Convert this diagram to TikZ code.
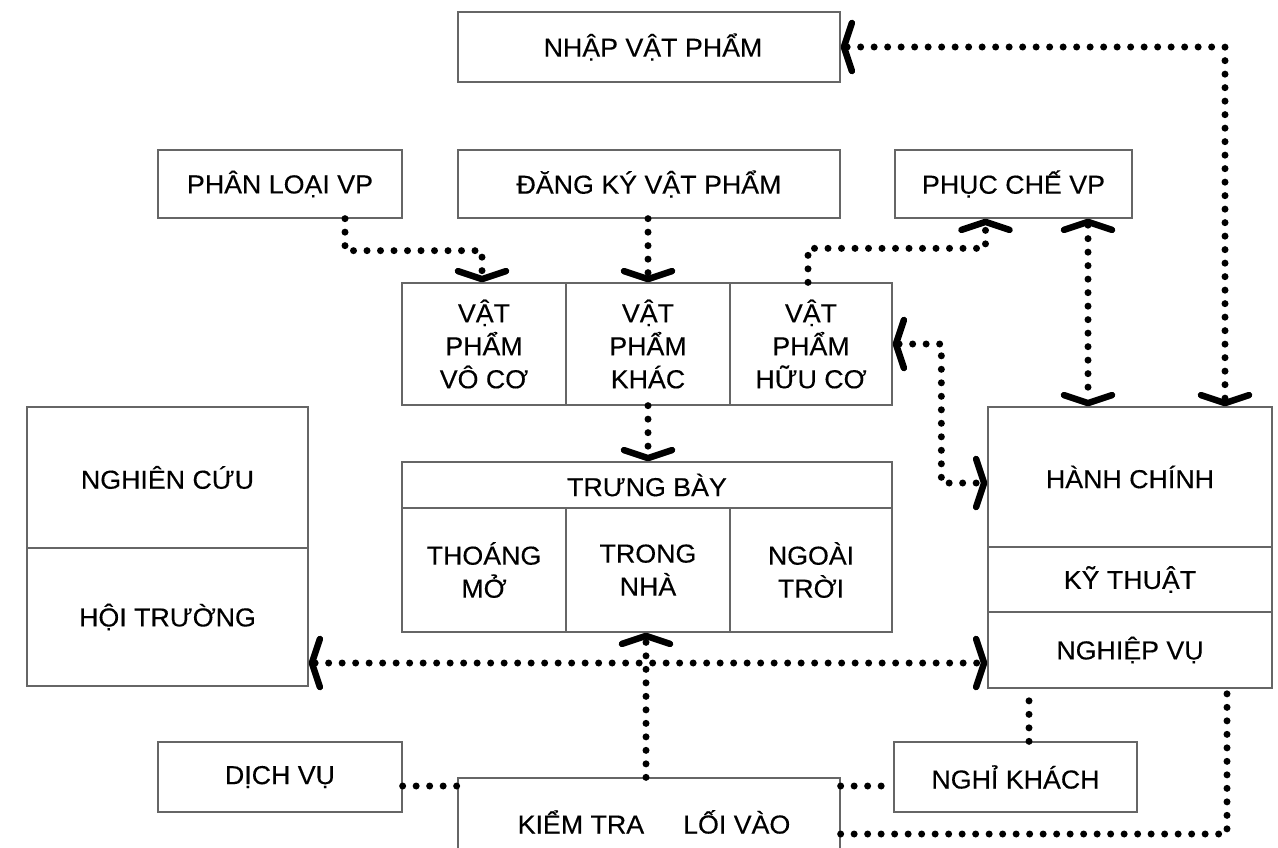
\documentclass[tikz,border=0pt]{standalone}
\usepackage{fontspec}
\setmainfont[FakeStretch=1.03,FakeBold=0.3]{Liberation Sans}
\usetikzlibrary{arrows.meta,calc}
\tikzset{
  bx/.style={draw=black!60, line width=1.3pt, rectangle, inner sep=0pt, align=center,
    font=\fontsize{26}{33}\selectfont},
  dl/.style={line width=7pt, line cap=round, dash pattern=on 0pt off 13.5pt},
  tp/.tip={Straight Barb[length=8pt,width=48pt,line width=6.5pt,round]},
}
\begin{document}
\begin{tikzpicture}[x=1pt,y=1pt]
\useasboundingbox (0,0) rectangle (1278,-848);
% top boxes
\node[bx, minimum width=382pt, minimum height=70pt] (nhap) at (649,-47) {\hspace*{8pt}NHẬP VẬT PHẨM};
\node[bx, minimum width=244pt, minimum height=68pt] (phanloai) at (280,-184) {PHÂN LOẠI VP};
\node[bx, minimum width=382pt, minimum height=68pt] (dangky) at (649,-184) {ĐĂNG KÝ VẬT PHẨM};
\node[bx, minimum width=237pt, minimum height=68pt] (phucche) at (1013.5,-184) {PHỤC CHẾ VP};
% row of three
\node[bx, minimum width=164pt, minimum height=122pt] (vc) at (484,-344) {VẬT\\PHẨM\\VÔ CƠ};
\node[bx, minimum width=164pt, minimum height=122pt] (vk) at (648,-344) {VẬT\\PHẨM\\KHÁC};
\node[bx, minimum width=162pt, minimum height=122pt] (hc) at (811,-344) {VẬT\\PHẨM\\HỮU CƠ};
% trung bay
\node[bx, minimum width=490pt, minimum height=46pt] (trungbay) at (647,-485) {TRƯNG BÀY};
\node[bx, minimum width=164pt, minimum height=124pt] (thoang) at (484,-570) {THOÁNG\\MỞ};
\node[bx, minimum width=164pt, minimum height=124pt] (trongnha) at (648,-570) {TRONG\\NHÀ};
\node[bx, minimum width=162pt, minimum height=124pt] (ngoaitroi) at (811,-570) {NGOÀI\\TRỜI};
% left block
\node[bx, minimum width=281pt, minimum height=141pt] (nghiencuu) at (167.5,-477.5) {NGHIÊN CỨU};
\node[bx, minimum width=281pt, minimum height=138pt] (hoitruong) at (167.5,-617) {HỘI TRƯỜNG};
% right block
\node[bx, minimum width=284pt, minimum height=140pt] (hanhchinh) at (1130,-477) {HÀNH CHÍNH};
\node[bx, minimum width=284pt, minimum height=65pt] (kythuat) at (1130,-579.5) {KỸ THUẬT};
\node[bx, minimum width=284pt, minimum height=76pt] (nghiepvu) at (1130,-650) {NGHIỆP VỤ};
% bottom
\node[bx, minimum width=244pt, minimum height=70pt] (dichvu) at (280,-777) {DỊCH VỤ};
\node[bx, minimum width=382pt, minimum height=88pt] (kiemtra) at (649,-822) {\hspace*{10pt}KIỂM TRA\hspace{1.5em}LỐI VÀO};
\node[bx, minimum width=243pt, minimum height=70pt] (nghikhach) at (1015.5,-777) {NGHỈ KHÁCH};
% connectors
\draw[dl,-tp] ([xshift=65pt]phanloai.south) -- ++(0,-32) -| ([xshift=-2pt]vc.north);
\draw[dl,-tp] (dangky.south -| vk.north) -- (vk.north);
\draw[dl,-tp] ([xshift=-3pt]hc.north) -- ++(0,34) -| ([xshift=-28pt]phucche.south);
\draw[dl,tp-tp] ([xshift=74.5pt]phucche.south) -- ([xshift=74.5pt]phucche.south |- hanhchinh.north);
\draw[dl,tp-tp] (nhap.east) -| ([xshift=95pt]hanhchinh.north);
\draw[dl,tp-tp] (hc.east) -| ([xshift=-46pt,yshift=-6pt]hanhchinh.west) -- ([yshift=-6pt]hanhchinh.west);
\draw[dl,-tp] (vk.south) -- (vk.south |- trungbay.north);
\draw[dl,tp-tp] ([yshift=-46pt]hoitruong.east) -- ([yshift=-46pt]hoitruong.east -| nghiepvu.west);
\draw[dl,-tp] ([xshift=-3pt]kiemtra.north) -- ([xshift=-3pt]kiemtra.north |- trongnha.south);
\draw[dl] ([yshift=-9pt]dichvu.east) -- ([yshift=-9pt]dichvu.east -| kiemtra.west);
\draw[dl] ([yshift=-9pt]nghikhach.west -| kiemtra.east) -- ([yshift=-9pt]nghikhach.west);
\draw[dl] ([xshift=13.5pt]nghikhach.north) -- ([xshift=13.5pt]nghikhach.north |- nghiepvu.south);
\draw[dl] ([yshift=-12pt]kiemtra.east) -| ([xshift=97pt]nghiepvu.south);
\end{tikzpicture}
\end{document}
